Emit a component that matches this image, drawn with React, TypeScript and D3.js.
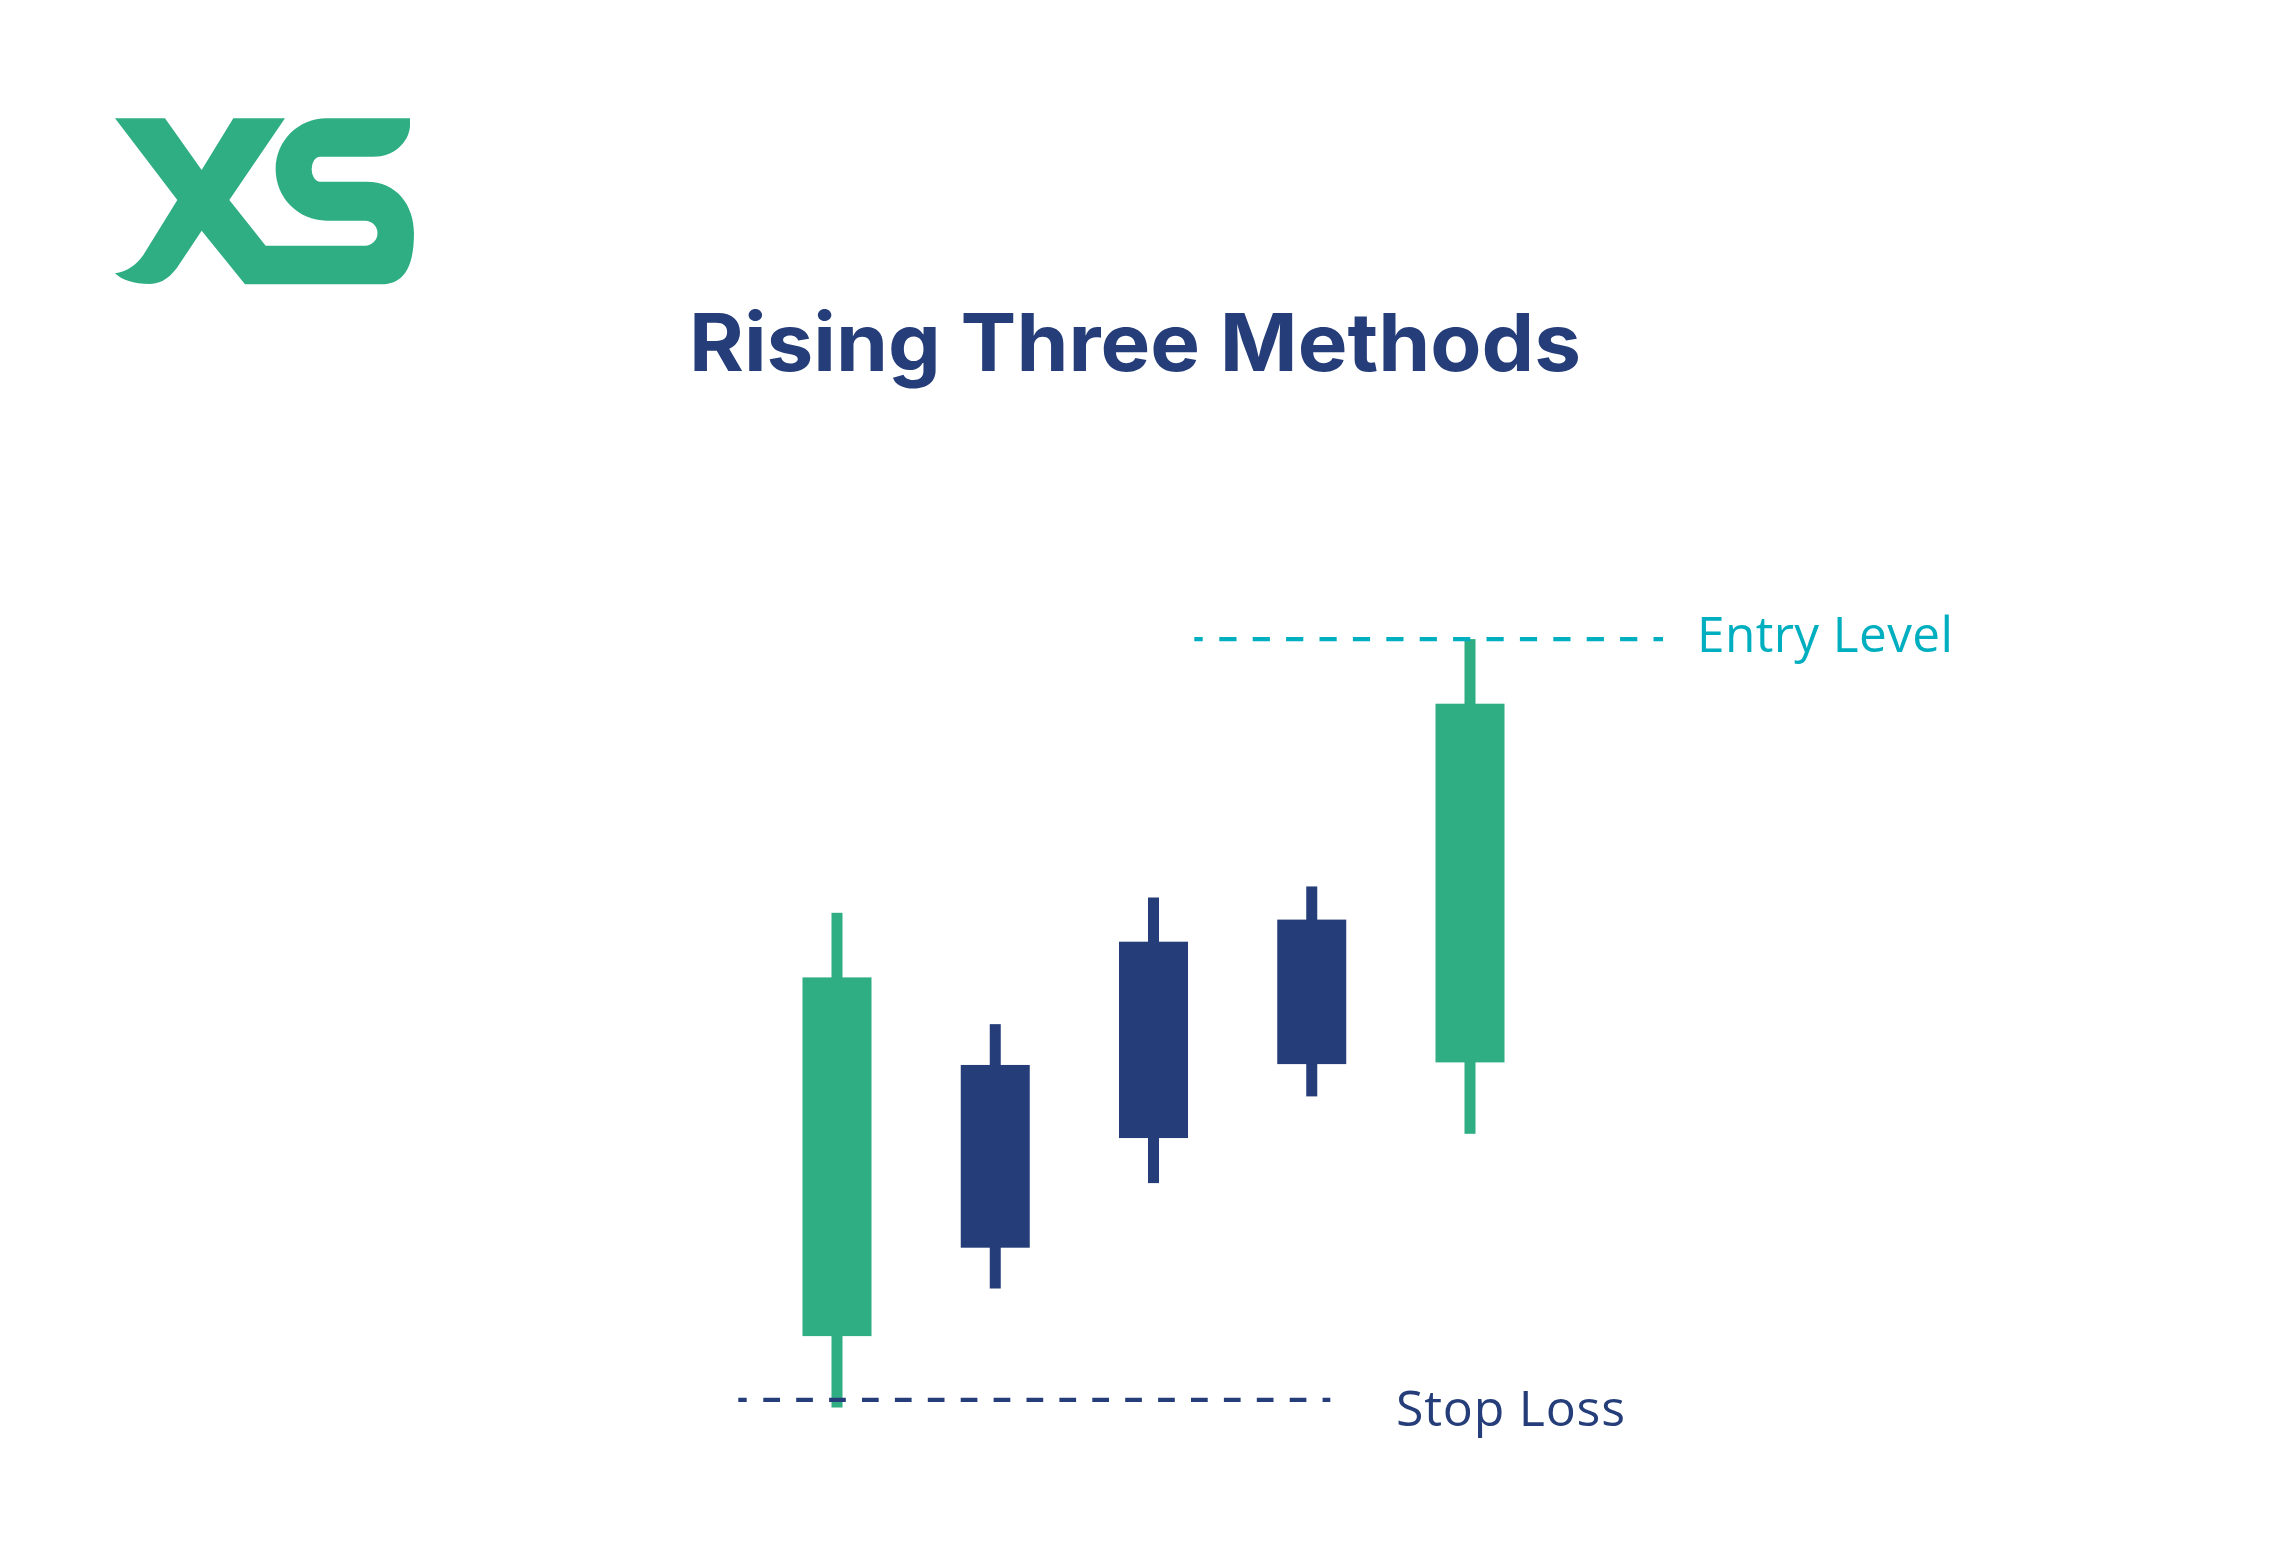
import React from "react";
import * as d3 from "d3";

// ---- data ----
const candleIds = ["c1", "c2", "c3", "c4", "c5"];
const opens = [13.4, 45.3, 59.8, 62.4, 45.6];
const closes = [55.6, 23.8, 36.7, 45.4, 87.8];
const highs = [63.2, 50.1, 65.0, 66.3, 95.4];
const lows = [5.0, 19.0, 31.4, 41.6, 37.2];
const entryLevel = 95.4;
const stopLoss = 5.9;
const titleText = "Rising Three Methods";
const entryLabel = "Entry Level";
const stopLabel = "Stop Loss";

const W = 2272;
const H = 1553;
const GREEN = "#2FAE83";
const NAVY = "#253D79";
const TEAL = "#00AFBF";

const LOGO_D =
  "M45,55 L195,55 L305,210 L400,55 L555,55 L388,300 L497,437 L795,437 " +
  "A37.5,37.5 0 0 0 795,362 L680,362 C595,362 527,293 527,208 C527,123 595,55 680,55 " +
  "L930,55 L930,80 C925,130 880,170 820,170 L660,170 A25,37.5 0 0 0 660,245 " +
  "L800,245 C890,245 942,315 942,400 C942,490 918,553 845,553 " +
  "L435,553 L305,392 L240,490 C215,530 185,552 150,552 " +
  "C100,552 65,540 45,520 C80,515 110,495 130,465 L232,300 Z";

function dashPattern(first: number, firstGap: number, dash: number, gap: number, n: number) {
  const arr: number[] = [first, firstGap];
  for (let i = 0; i < n; i++) arr.push(dash, gap);
  arr.push(dash, 1000);
  return arr.join(" ");
}

export default function App() {
  const x = d3.scalePoint<string>().domain(candleIds).range([837, 1470]);
  const y = d3.scaleLinear().domain([0, 100]).range([1450, 600]);
  const bodyW = 69;
  const wickW = 11;

  const candles = candleIds.map((id, i) => ({
    id,
    o: opens[i],
    c: closes[i],
    h: highs[i],
    l: lows[i],
  }));

  return (
    <svg
      width={W}
      height={H}
      viewBox={`0 0 ${W} ${H}`}
      style={{ position: "absolute", left: 0, top: 0, background: "#fff" }}
    >
      <rect x={0} y={0} width={W} height={H} fill="#fff" />
      <path d={LOGO_D} fill={GREEN} transform="translate(100,100) scale(0.3333)" />
      <text
        x={1135}
        y={371}
        textAnchor="middle"
        fontFamily="Inter, 'Open Sans', sans-serif"
        fontWeight={700}
        fontSize={80}
        fill={NAVY}
        textLength={892}
        lengthAdjust="spacingAndGlyphs"
      >
        {titleText}
      </text>

      {candles.map((d) => {
        const cx = x(d.id)!;
        const col = d.c >= d.o ? GREEN : NAVY;
        const top = y(Math.max(d.o, d.c));
        const bot = y(Math.min(d.o, d.c));
        return (
          <g key={d.id}>
            <rect x={cx - wickW / 2} y={y(d.h)} width={wickW} height={y(d.l) - y(d.h)} fill={col} />
            <rect x={cx - bodyW / 2} y={top} width={bodyW} height={bot - top} fill={col} />
          </g>
        );
      })}

      <line
        x1={1194.3}
        x2={1663}
        y1={y(entryLevel)}
        y2={y(entryLevel)}
        stroke={TEAL}
        strokeWidth={4.2}
        strokeDasharray={dashPattern(8.4, 16.6, 17.2, 16.2, 13)}
      />
      <line
        x1={738.3}
        x2={1330.3}
        y1={y(stopLoss)}
        y2={y(stopLoss)}
        stroke={NAVY}
        strokeWidth={4.3}
        strokeDasharray={dashPattern(8.4, 16.6, 16.7, 16.2, 17)}
      />
      <text
        x={1697}
        y={652}
        fontFamily="'Open Sans', sans-serif"
        fontWeight={400}
        fontSize={49.5}
        fill={TEAL}
        textLength={256}
        lengthAdjust="spacing"
      >
        {entryLabel}
      </text>
      <text
        x={1396}
        y={1426}
        fontFamily="'Open Sans', sans-serif"
        fontWeight={400}
        fontSize={50}
        fill={NAVY}
        textLength={229}
        lengthAdjust="spacing"
      >
        {stopLabel}
      </text>
    </svg>
  );
}
